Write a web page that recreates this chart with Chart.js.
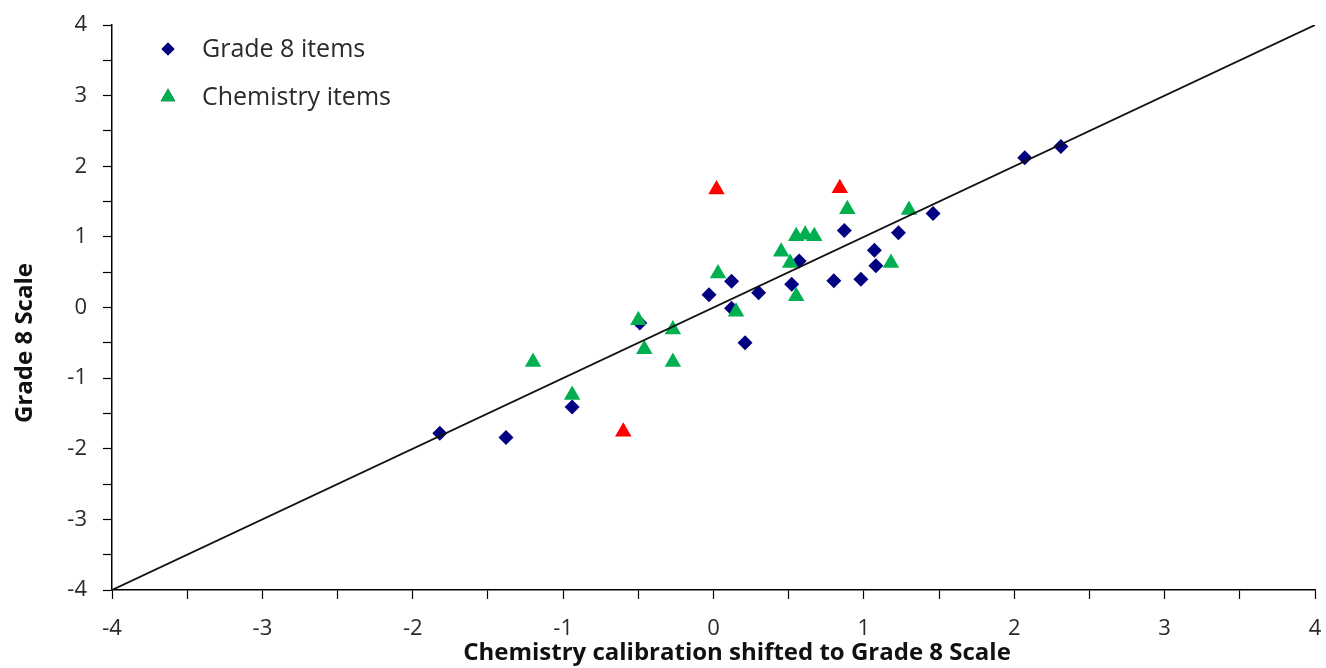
<!DOCTYPE html>
<html>
<head>
<meta charset="utf-8">
<script src="https://cdn.jsdelivr.net/npm/chart.js@4/dist/chart.umd.min.js"></script>
<style>
  body { margin: 0; background: #fff; }
  #wrap { width: 1326px; height: 668px; }
</style>
</head>
<body>
<div id="wrap"><canvas id="scatterChart" width="1326" height="668"></canvas></div>
<script>
// Grade 8 items (blue diamonds)
var grade8X = [-1.82, -1.38, -0.94, -0.49, -0.03, 0.12, 0.12, 0.21, 0.30, 0.52, 0.57, 0.80, 0.87, 0.98, 1.07, 1.08, 1.23, 1.46, 2.07, 2.31];
var grade8Y = [-1.78, -1.84, -1.41, -0.22, 0.18, 0.37, -0.01, -0.50, 0.21, 0.33, 0.66, 0.38, 1.09, 0.40, 0.81, 0.59, 1.06, 1.33, 2.12, 2.28];
// Chemistry items (green triangles)
var chemX = [-1.20, -0.94, -0.50, -0.46, -0.27, -0.27, 0.03, 0.15, 0.45, 0.51, 0.55, 0.61, 0.67, 0.55, 0.89, 1.18, 1.30];
var chemY = [-0.77, -1.24, -0.18, -0.59, -0.31, -0.77, 0.48, -0.06, 0.79, 0.63, 1.01, 1.03, 1.01, 0.16, 1.39, 0.63, 1.38];
// Chemistry items flagged in red (not in legend)
var flaggedX = [0.02, 0.84, -0.60];
var flaggedY = [1.67, 1.69, -1.76];
// identity line
var lineX = [-4, 4];
var lineY = [-4, 4];

var axisMin = -4, axisMax = 4, tickStep = 0.5;
var xTitle = 'Chemistry calibration shifted to Grade 8 Scale';
var yTitle = 'Grade 8 Scale';

function toPoints(xs, ys) {
    return xs.map(function (x, i) { return { x: x, y: ys[i] }; });
}

var fontFamily = '"Open Sans", Lato, sans-serif';
var textColor = '#2a2a2a';

var legendAndTitles = {
    id: 'legendAndTitles',
    afterDraw: function (chart) {
        var ctx = chart.ctx;
        ctx.save();
        // legend (first two datasets)
        ctx.font = '25px ' + fontFamily;
        ctx.textBaseline = 'middle';
        ctx.textAlign = 'left';
        [0, 1].forEach(function (idx, row) {
            var ds = chart.data.datasets[idx];
            var cy = 49 + row * 48;
            var cx = 168;
            Chart.helpers.drawPoint(ctx, {
                pointStyle: ds.pointStyle,
                radius: ds.legendRadius,
                borderWidth: 0
            }, cx, cy);
            ctx.fillStyle = ds.backgroundColor;
            ctx.fill();
            ctx.fillStyle = textColor;
            ctx.fillText(ds.label, 202, cy + 1);
        });
        // axis titles
        ctx.fillStyle = '#111';
        ctx.font = 'bold 24px ' + fontFamily;
        ctx.textAlign = 'center';
        ctx.fillText(xTitle, 737, 653);
        ctx.translate(25, 343);
        ctx.rotate(-Math.PI / 2);
        ctx.fillText(yTitle, 0, 0);
        ctx.restore();
    }
};

function axisOptions(position, fitSize) {
    return {
        type: 'linear',
        position: position,
        min: axisMin,
        max: axisMax,
        afterFit: function (scale) {
            if (position === 'left') scale.width = fitSize; else scale.height = fitSize;
            // let layout padding alone decide the plot edges
            scale.paddingLeft = scale.paddingRight = scale.paddingTop = scale.paddingBottom = 0;
        },
        border: { display: true, color: '#000', width: 1.5 },
        grid: { drawOnChartArea: false, drawTicks: true, tickLength: 9, tickColor: '#000', tickWidth: 1.2 },
        ticks: {
            stepSize: tickStep,
            autoSkip: false,
            maxRotation: 0,
            padding: position === 'left' ? 16 : 17,
            color: textColor,
            font: { family: fontFamily, size: 22 },
            callback: function (v) { return Number.isInteger(v) ? v : ''; }
        }
    };
}

var ctx = document.getElementById('scatterChart').getContext('2d');
var scatterChart = new Chart(ctx, {
    type: 'scatter',
    data: {
        datasets: [{
            label: 'Grade 8 items',
            data: toPoints(grade8X, grade8Y),
            pointStyle: 'rectRot',
            pointRadius: 7.5,
            legendRadius: 6.5,
            backgroundColor: '#000080',
            borderColor: '#000080',
            borderWidth: 0,
            order: 2
        }, {
            label: 'Chemistry items',
            data: toPoints(chemX, chemY),
            pointStyle: 'triangle',
            pointRadius: 9.5,
            legendRadius: 8.5,
            backgroundColor: '#00B050',
            borderColor: '#00B050',
            borderWidth: 0,
            order: 1
        }, {
            label: 'Flagged chemistry items',
            data: toPoints(flaggedX, flaggedY),
            pointStyle: 'triangle',
            pointRadius: 9.5,
            backgroundColor: '#FF0000',
            borderColor: '#FF0000',
            borderWidth: 0,
            order: 1
        }, {
            label: 'Identity',
            data: toPoints(lineX, lineY),
            showLine: true,
            pointRadius: 0,
            borderColor: '#111',
            borderWidth: 1.8,
            order: 0
        }]
    },
    options: {
        responsive: false,
        devicePixelRatio: 1,
        animation: false,
        layout: { padding: { top: 25, right: 11, left: 0, bottom: 0 } },
        plugins: {
            legend: { display: false },
            tooltip: { enabled: false }
        },
        scales: {
            x: axisOptions('bottom', 78),
            y: axisOptions('left', 112)
        }
    },
    plugins: [legendAndTitles]
});
</script>
</body>
</html>
